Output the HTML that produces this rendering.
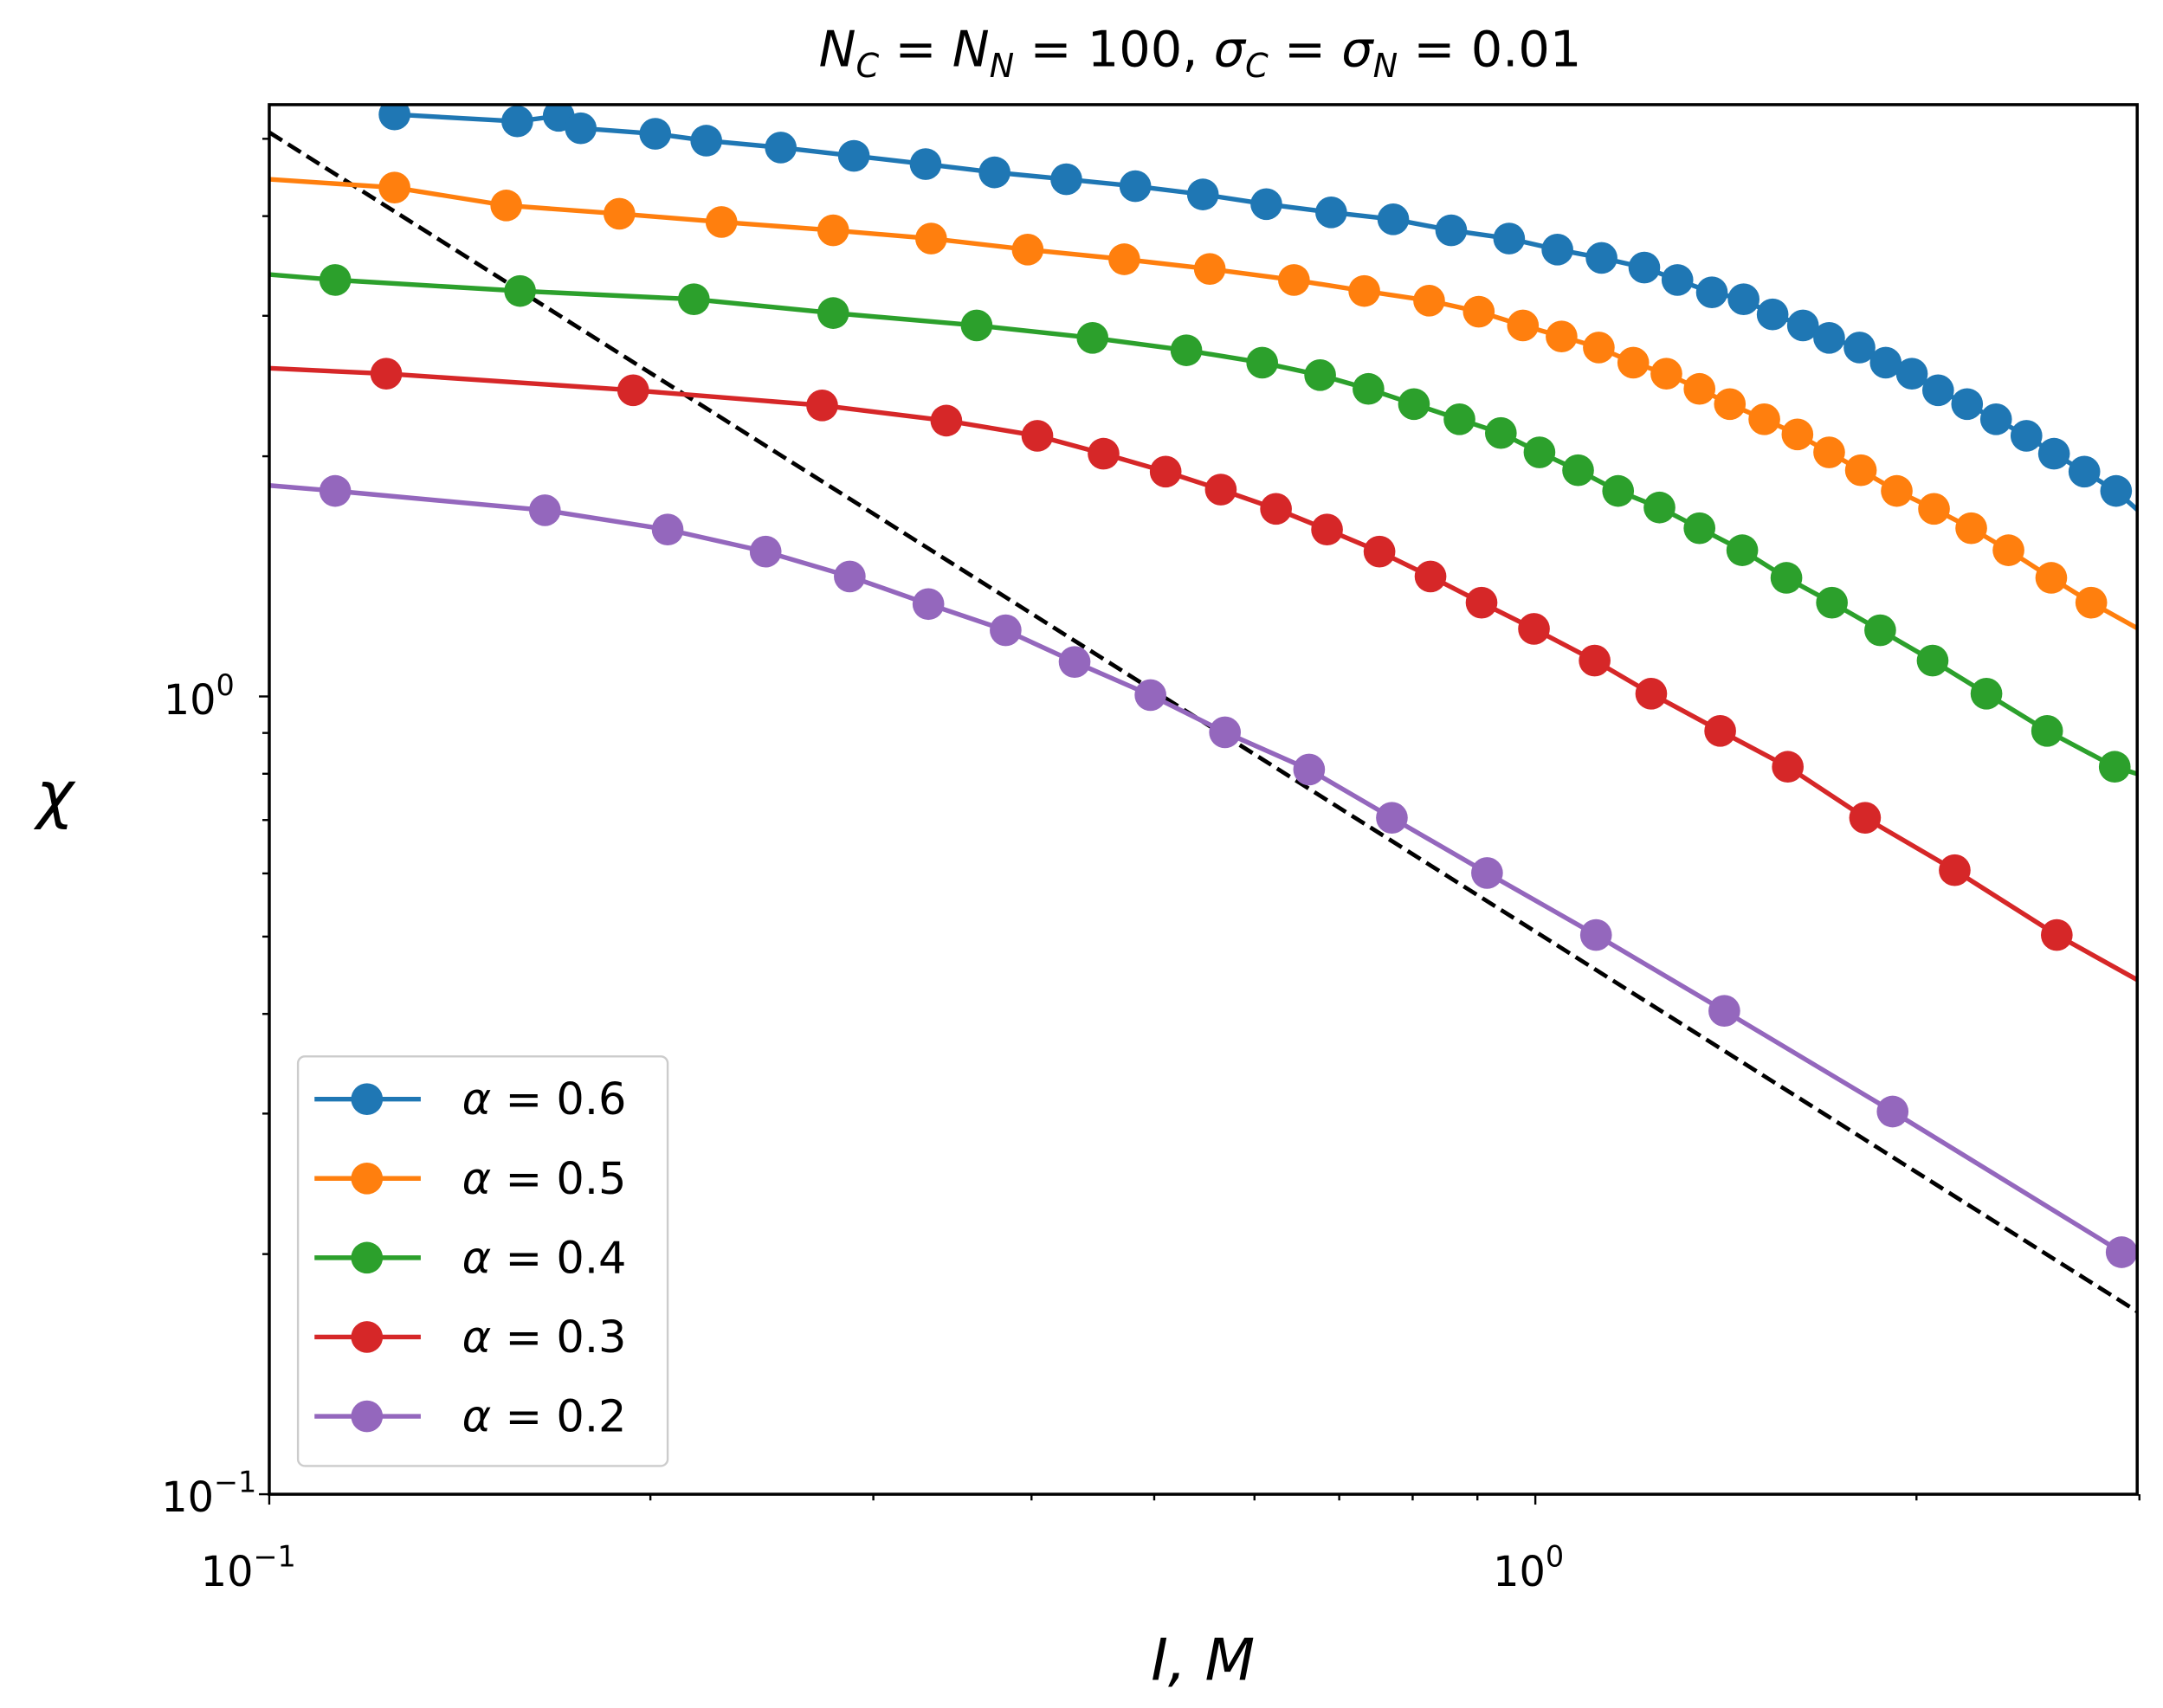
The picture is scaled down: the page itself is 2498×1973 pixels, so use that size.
<!DOCTYPE html>
<html><head><meta charset="utf-8"><style>
html,body{margin:0;padding:0;background:#fff;}
svg{display:block;}
text{font-family:"DejaVu Sans","Liberation Sans",sans-serif;fill:#000;}
</style></head><body>
<svg width="2498" height="1973" viewBox="0 0 1568 1238.5" preserveAspectRatio="none" xmlns="http://www.w3.org/2000/svg">
<rect x="0" y="0" width="1568" height="1238.5" fill="#fff"/>
<defs><clipPath id="c"><rect x="195.2" y="75.9" width="1354.1" height="1007.6"/></clipPath></defs>
<g id="ticks" stroke="#000" stroke-width="1.5"></g>
<g clip-path="url(#c)" id="data"></g>
<rect x="195.2" y="75.9" width="1354.1" height="1007.6" fill="none" stroke="#000" stroke-width="2.2"/>
<g id="legend"></g>
<text x="870" y="48" font-size="36" text-anchor="middle"><tspan font-style="italic">N</tspan><tspan font-size="24" dy="8" font-style="italic">C</tspan><tspan dy="-8"> = </tspan><tspan font-style="italic">N</tspan><tspan font-size="24" dy="8" font-style="italic">N</tspan><tspan dy="-8"> = 100, </tspan><tspan font-style="italic">σ</tspan><tspan font-size="24" dy="8" font-style="italic">C</tspan><tspan dy="-8"> = </tspan><tspan font-style="italic">σ</tspan><tspan font-size="24" dy="8" font-style="italic">N</tspan><tspan dy="-8"> = 0.01</tspan></text>
<text x="872" y="1218" font-size="42" text-anchor="middle" font-style="italic">I,  M</text>
<text x="40" y="592" font-size="46" text-anchor="middle" font-style="italic">χ</text>
<text x="180" y="1150" font-size="30" text-anchor="middle">10<tspan font-size="21" dy="-14">−1</tspan></text>
<text x="1108" y="1150" font-size="30" text-anchor="middle">10<tspan font-size="21" dy="-14">0</tspan></text>
<text x="170" y="518" font-size="30" text-anchor="end">10<tspan font-size="21" dy="-14">0</tspan></text>
<text x="186" y="1096" font-size="30" text-anchor="end">10<tspan font-size="21" dy="-14">−1</tspan></text>
</svg>
<script>
var NS="http://www.w3.org/2000/svg";
function el(p,t,a){var e=document.createElementNS(NS,t);for(var k in a)e.setAttribute(k,a[k]);p.appendChild(e);return e;}
var X=function(v){return 195.2+(Math.log10(v)+1)*917.8;};
var Y=function(v){return 505-Math.log10(v)*578.5;};
var tk=document.getElementById('ticks');
[0.1,1].forEach(function(v){el(tk,'line',{x1:X(v),x2:X(v),y1:1083.5,y2:1091});});
[0.2,0.3,0.4,0.5,0.6,0.7,0.8,0.9,2,3].forEach(function(v){el(tk,'line',{x1:X(v),x2:X(v),y1:1083.5,y2:1088});});
[0.1,1].forEach(function(v){el(tk,'line',{x1:187.7,x2:195.2,y1:Y(v),y2:Y(v)});});
[0.2,0.3,0.4,0.5,0.6,0.7,0.8,0.9,2,3,4,5].forEach(function(v){el(tk,'line',{x1:190.2,x2:195.2,y1:Y(v),y2:Y(v)});});
var S=[
["#1f77b4",null,[[286,83],[375,88],[405,84],[421,93],[475,97],[512,102],[566,107],[619,113],[671,119],[721,125],[773,130],[823,135],[872,141],[918,148],[965,154],[1010,159],[1052,167],[1094,173],[1129,181],[1161,187],[1192,194],[1216,203],[1241,212],[1264,217],[1285,228],[1307,236],[1326,245],[1348,252],[1367,263],[1386,271],[1405,283],[1426,293],[1447,304],[1469,316],[1489,329],[1511,342],[1534,356]],[1552,372]],
["#ff7f0e",[195,130],[[286,136],[367,149],[449,155],[523,161],[604,167],[675,173],[745,181],[815,188],[877,195],[938,203],[989,211],[1036,218],[1072,226],[1104,236],[1132,244],[1159,252],[1184,263],[1208,271],[1232,282],[1254,293],[1279,304],[1303,315],[1326,328],[1349,341],[1375,356],[1402,369],[1429,383],[1456,399],[1487,419],[1516,437]],[1552,457]],
["#2ca02c",[195,199],[[243,203],[377,211],[503,217],[604,227],[708,236],[792,245],[860,254],[915,263],[957,272],[992,282],[1025,293],[1058,304],[1088,314],[1116,328],[1144,341],[1173,356],[1203,368],[1232,383],[1263,399],[1295,419],[1328,437],[1363,457],[1401,479],[1440,503],[1484,530],[1533,556]],[1552,562]],
["#d62728",[195,267],[[280,271],[459,283],[596,294],[686,305],[752,316],[800,329],[845,342],[885,355],[925,369],[962,384],[1000,400],[1037,418],[1074,437],[1112,456],[1156,479],[1197,503],[1247,530],[1296,556],[1352,593],[1417,631],[1491,678]],[1552,712]],
["#9467bd",[195,352],[[243,356],[395,370],[484,384],[555,400],[616,418],[673,438],[729,457],[779,480],[834,504],[888,531],[949,558],[1009,593],[1078,633],[1157,678],[1250,733],[1372,806],[1538,908]],[1552,912]]
];
var d=document.getElementById('data');
el(d,'line',{x1:195.2,y1:96,x2:1549.3,y2:951,stroke:'#000','stroke-width':3,'stroke-dasharray':'11,5'});
S.forEach(function(s){var pts=[];if(s[1])pts.push(s[1]);pts=pts.concat(s[2]);pts.push(s[3]);
el(d,'polyline',{points:pts.map(function(p){return p.join(',');}).join(' '),fill:'none',stroke:s[0],'stroke-width':3.4});
s[2].forEach(function(p){el(d,'circle',{cx:p[0],cy:p[1],r:11.5,fill:s[0]});});});
var lg=document.getElementById('legend');
el(lg,'rect',{x:216,y:766,width:268,height:297,rx:5,fill:'#fff','fill-opacity':0.85,stroke:'#ccc','stroke-width':1.5});
var labs=['0.6','0.5','0.4','0.3','0.2'];
S.forEach(function(s,i){var y=797+i*57.5;
el(lg,'line',{x1:228,x2:305,y1:y,y2:y,stroke:s[0],'stroke-width':3.4});
el(lg,'circle',{cx:266,cy:y,r:11.5,fill:s[0]});
var t=el(lg,'text',{x:335,y:y+11,'font-size':32});t.innerHTML='<tspan font-style="italic">α</tspan> = '+labs[i];});
</script>
</body></html>
